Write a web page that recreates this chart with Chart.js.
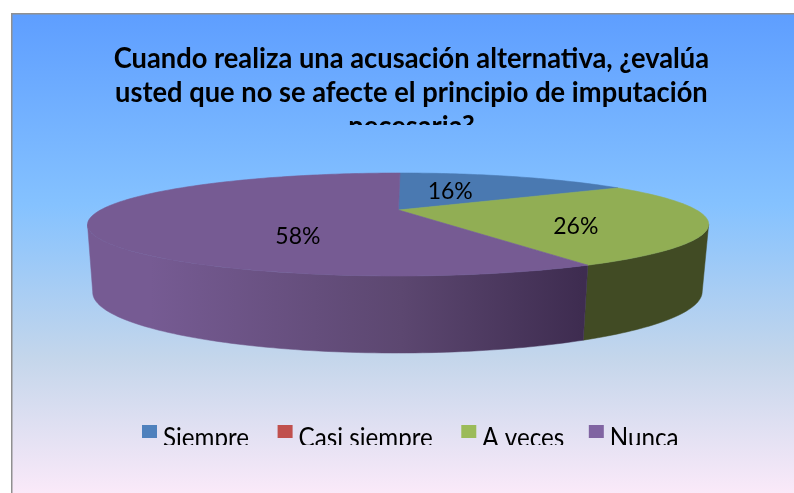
<!DOCTYPE html>
<html>
<head>
<meta charset="utf-8">
<style>html,body{margin:0;padding:0;background:#fff}canvas{display:block}</style>
<script src="https://cdn.jsdelivr.net/npm/chart.js@4/dist/chart.umd.js"></script>
</head>
<body>
<canvas id="c" width="794" height="493"></canvas>
<script>
const categories = ["Siempre", "Casi siempre", "A veces", "Nunca"];
const values = [16, 0, 26, 58];
const titleLines = ["Cuando realiza una acusación alternativa, ¿evalúa", "usted que no se afecte el principio de imputación", "necesaria?"];
const legendColors = ["#4F81BD", "#C0504D", "#9BBB59", "#8064A2"];
const faceColors = ["#4A79B1", "#B54B48", "#91AE54", "#765B93"];

// Perspective of the tilted disc
const view = {
  top:    {cy: 210, rx: 298, ry: 47.4, skew: 1.5},
  bottom: {cy: 274.8, rx: 292.4, ry: 56.2, skew: 2},
  persp: 0.2816
};
function project(f, ex, a, r) {
  const u = Math.cos(a) * r, v = Math.sin(a) * r, d = 1 - view.persp * v;
  return {x: ex + f.rx * u / d - f.skew * (v + 1), y: f.cy + f.ry * v / d};
}
function traceRim(ctx, f, ex, a0, a1, first) {
  const n = Math.max(2, Math.ceil(Math.abs(a1 - a0) / 0.02));
  for (let i = 0; i <= n; i++) {
    const p = project(f, ex, a0 + (a1 - a0) * i / n, 1);
    if (i === 0 && first) ctx.moveTo(p.x, p.y); else ctx.lineTo(p.x, p.y);
  }
}

class TiltedArc extends Chart.ArcElement {
  static id = "tiltedArc";
  draw(ctx) {
    if (this.circumference <= 0) return;
    const c = this.options.backgroundColor, p0 = project(view.top, this.x, 0, 0);
    ctx.save();
    ctx.beginPath();
    ctx.moveTo(p0.x, p0.y);
    traceRim(ctx, view.top, this.x, this.startAngle, this.endAngle, false);
    ctx.closePath();
    ctx.fillStyle = c; ctx.strokeStyle = c; ctx.lineWidth = 0.6;
    ctx.fill(); ctx.stroke();
    ctx.restore();
  }
}
class TiltedPie extends Chart.PieController {
  static id = "tiltedPie";
  static defaults = {dataElementType: "tiltedArc"};
}
Chart.register(TiltedArc, TiltedPie);

const wallShades = [
  () => "#3C5E88",
  () => "#7A3533",
  () => "#414B24",
  (ctx) => {
    const g = ctx.createLinearGradient(150, 0, 583, 0);
    g.addColorStop(0, "#765B93");
    g.addColorStop(0.58, "#5C4770");
    g.addColorStop(1, "#3E2C50");
    return g;
  }
];

const frame = {left: 12, top: 14, right: 794, bottom: 493, gradientEnd: 505};
const titleStyle = {scaleX: 0.975, nativeCenter: 407.8, center: 419, shiftY: 2.5, clipBottom: 125};
const legendStyle = {x: 142, boxY: 425, boxW: 15, boxH: 13, gap: 6, after: [28.5, 28.5, 24.5, 0], baseline: 447, clipBottom: 445, font: "26px Lato", scaleX: 0.93};
const labelStyle = {font: "23px Lato", place: [[0.45, -7, -2], null, [0.58, 3, 9], [0.34, 0, 22]]};

const decor = {
  id: "decor",
  beforeDraw(chart) {
    const ctx = chart.ctx;
    ctx.save();
    ctx.fillStyle = "#fff";
    ctx.fillRect(0, 0, 794, 493);
    const g = ctx.createLinearGradient(0, frame.top, 0, frame.gradientEnd);
    g.addColorStop(0, "#5E9EFF");
    g.addColorStop(0.39, "#85C2FF");
    g.addColorStop(0.7, "#C4D6EB");
    g.addColorStop(1, "#FFEBFA");
    ctx.fillStyle = g;
    ctx.fillRect(frame.left, frame.top, frame.right - frame.left, frame.bottom - frame.top);
    ctx.fillStyle = "#909090";
    ctx.fillRect(frame.left - 1, frame.top - 1, frame.right, 1.5);
    ctx.fillRect(frame.left - 1, frame.top - 1, 1.5, frame.bottom);
    ctx.restore();
    const tb = chart.titleBlock;
    if (tb && !tb._wrapped) {
      tb._wrapped = true;
      const orig = tb.draw.bind(tb);
      tb.draw = function () {
        const c = chart.ctx, T = titleStyle;
        c.save();
        c.beginPath(); c.rect(0, 0, 794, T.clipBottom); c.clip();
        c.translate(T.center, T.shiftY); c.scale(T.scaleX, 1); c.translate(-T.nativeCenter, 0);
        orig();
        c.restore();
      };
    }
  },
  beforeDatasetsDraw(chart) {
    const ctx = chart.ctx, arcs = chart.getDatasetMeta(0).data;
    const s = Math.asin(view.persp), a0 = s, a1 = Math.PI - s;
    arcs.forEach((arc, i) => {
      if (arc.circumference <= 0) return;
      const candidates = [[arc.startAngle, arc.endAngle], [arc.startAngle - 2 * Math.PI, arc.endAngle - 2 * Math.PI]];
      for (const [st, en] of candidates) {
        const from = Math.max(st, a0), to = Math.min(en, a1);
        if (to <= from) continue;
        ctx.save();
        ctx.beginPath();
        traceRim(ctx, view.top, arc.x, from, to, true);
        traceRim(ctx, view.bottom, arc.x, to, from, false);
        ctx.closePath();
        const w = wallShades[i](ctx);
        ctx.fillStyle = w; ctx.strokeStyle = w; ctx.lineWidth = 0.5;
        ctx.fill(); ctx.stroke();
        ctx.restore();
      }
    });
  },
  afterDatasetsDraw(chart) {
    const ctx = chart.ctx, arcs = chart.getDatasetMeta(0).data;
    ctx.save();
    ctx.fillStyle = "#000";
    ctx.textAlign = "center";
    ctx.textBaseline = "middle";
    ctx.font = labelStyle.font;
    arcs.forEach((arc, i) => {
      const pl = labelStyle.place[i];
      if (!pl || values[i] <= 0) return;
      const p = project(view.top, arc.x, (arc.startAngle + arc.endAngle) / 2, pl[0]);
      ctx.fillText(values[i] + "%", p.x + pl[1], p.y + pl[2]);
    });
    ctx.restore();
    // legend
    const L = legendStyle;
    ctx.save();
    ctx.beginPath(); ctx.rect(0, 0, 794, L.clipBottom); ctx.clip();
    ctx.font = L.font;
    ctx.textAlign = "left";
    ctx.textBaseline = "alphabetic";
    let x = L.x;
    categories.forEach((name, i) => {
      ctx.fillStyle = legendColors[i];
      ctx.fillRect(x, L.boxY, L.boxW, L.boxH);
      x += L.boxW + L.gap;
      const w = ctx.measureText(name).width * L.scaleX;
      ctx.save();
      ctx.translate(x, L.baseline);
      ctx.scale(L.scaleX, 1);
      ctx.fillStyle = "#000";
      ctx.fillText(name, 0, 0);
      ctx.restore();
      x += w + L.after[i];
    });
    ctx.restore();
  }
};

new Chart(document.getElementById("c"), {
  type: "tiltedPie",
  data: {labels: categories, datasets: [{data: values, backgroundColor: faceColors, borderWidth: 0}]},
  options: {
    responsive: false,
    animation: false,
    layout: {padding: {left: 6, right: 0, top: 0, bottom: 0}},
    plugins: {
      legend: {display: false},
      tooltip: {enabled: false},
      title: {
        display: true,
        text: titleLines,
        align: "center",
        color: "#000",
        font: {family: "Lato", weight: "bold", size: 28, lineHeight: 1.21},
        padding: {top: 40, bottom: 10}
      }
    }
  },
  plugins: [decor]
});
</script>
</body>
</html>
